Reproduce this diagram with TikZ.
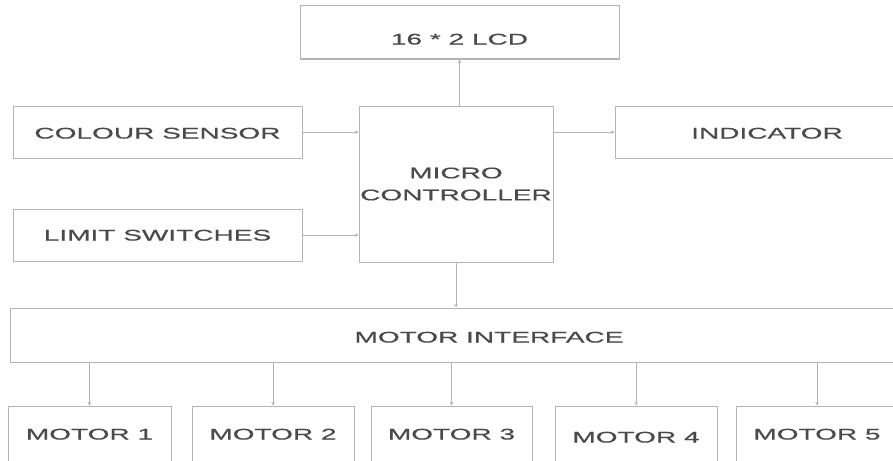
\documentclass[tikz,border=0pt]{standalone}
\usepackage{fontspec}
\setmainfont{Liberation Sans}[FakeStretch=1.82,FakeBold=0.6]
\usetikzlibrary{arrows.meta}
\definecolor{boxline}{HTML}{B4B4B4}
\definecolor{txt}{HTML}{4A4A4A}
\begin{document}
\begin{tikzpicture}[x=1pt,y=-1pt,
  blk/.style={draw=boxline,line width=1pt,rectangle,inner sep=0pt,text=txt,font=\fontsize{15.4}{22}\selectfont,align=center},
  one/.style={text height=11pt,text depth=0pt},
  conn/.style={draw=boxline,line width=0.9pt,-{Stealth[length=3.5pt,width=3.5pt]}}]
\useasboundingbox (0,0) rectangle (893,460);
\clip (0,0) rectangle (893,460);
\node[blk,one,minimum width=319pt,minimum height=53pt] (lcd) at (459.5,32.5) {\raisebox{-6.5pt}{16 * 2 LCD}};
\node[blk,one,minimum width=289pt,minimum height=52pt] (cs) at (157.5,132) {\raisebox{-1pt}{COLOUR SENSOR}};
\node[blk,one,minimum width=289pt,minimum height=52pt] (ls) at (157.5,235) {LIMIT SWITCHES};
\node[blk,minimum width=194pt,minimum height=156pt] (mc) at (456,184) {MICRO\\CONTROLLER};
\node[blk,one,minimum width=304pt,minimum height=52pt] (ind) at (767,132) {\raisebox{-1pt}{INDICATOR}};
\node[blk,one,minimum width=958pt,minimum height=54pt] (mi) at (489,335) {\raisebox{-2pt}{MOTOR INTERFACE}};
\node[blk,one,minimum width=163pt,minimum height=56pt] (m1) at (89.5,434) {MOTOR 1};
\node[blk,one,minimum width=162pt,minimum height=56pt] (m2) at (273,434) {MOTOR 2};
\node[blk,one,minimum width=161pt,minimum height=56pt] (m3) at (451.5,434) {MOTOR 3};
\node[blk,one,minimum width=162pt,minimum height=56pt] (m4) at (636,434) {\raisebox{-3pt}{MOTOR 4}};
\node[blk,one,minimum width=162pt,minimum height=56pt] (m5) at (817,434) {MOTOR 5};
\draw[conn] (lcd.south |- mc.north) -- (lcd.south);
\draw[conn] (cs.east) -- (mc.west |- cs.east);
\draw[conn] (ls.east) -- (mc.west |- ls.east);
\draw[conn] (mc.east |- ind.west) -- (ind.west);
\draw[conn] (mc.south) -- (mc.south |- mi.north);
\foreach \m in {m1,m2,m3,m4,m5}{
  \draw[conn] (\m.north |- mi.south) -- (\m.north);
}
\end{tikzpicture}
\end{document}
